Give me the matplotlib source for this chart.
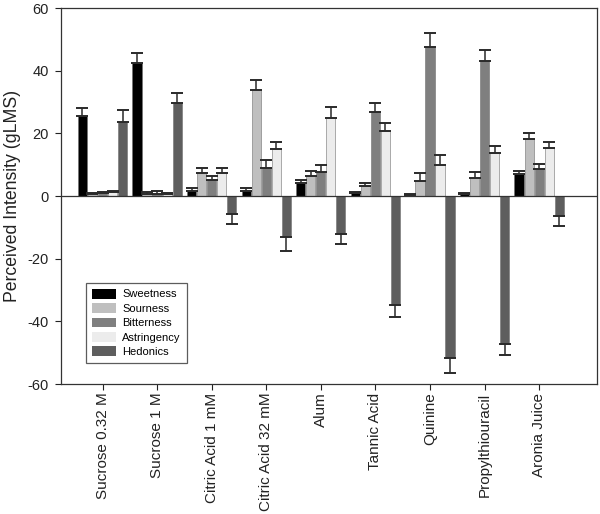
import matplotlib
matplotlib.use("Agg")
import matplotlib.pyplot as plt
import numpy as np

plt.rcParams['font.family'] = ['Liberation Sans', 'DejaVu Sans']
plt.rcParams['axes.unicode_minus'] = False

categories = ['Sucrose 0.32 M', 'Sucrose 1 M', 'Citric Acid 1 mM', 'Citric Acid 32 mM',
              'Alum', 'Tannic Acid', 'Quinine', 'Propylthiouracil', 'Aronia Juice']
series_names = ['Sweetness', 'Sourness', 'Bitterness', 'Astringency', 'Hedonics']

sweetness = [25.4, 42.3, 1.7, 1.7, 4.2, 1.0, 0.3, 0.7, 6.9]
sweet_err = [2.8, 3.2, 0.8, 1.0, 0.9, 0.3, 0.2, 0.3, 1.0]
sourness = [0.7, 0.8, 7.4, 33.8, 6.5, 3.1, 4.9, 5.9, 18.2]
sour_err = [0.3, 0.5, 1.4, 3.1, 1.6, 0.9, 2.3, 1.9, 1.9]
bitterness = [1.0, 0.8, 5.2, 9.1, 7.6, 26.8, 47.5, 43.0, 8.7]
bitter_err = [0.4, 0.8, 1.3, 2.5, 2.2, 2.9, 4.6, 3.6, 1.4]
astringency = [1.3, 0.7, 7.2, 14.9, 25.0, 20.9, 10.0, 13.7, 15.4]
astr_err = [0.4, 0.3, 1.8, 2.4, 3.4, 2.4, 3.1, 2.2, 1.9]
hedonics = [23.5, 29.7, -5.7, -13.0, -12.0, -34.8, -51.8, -47.1, -6.5]
hed_err = [4.0, 3.1, 3.3, 4.7, 3.4, 3.7, 4.7, 3.8, 3.2]

values = [sweetness, sourness, bitterness, astringency, hedonics]
errors = [sweet_err, sour_err, bitter_err, astr_err, hed_err]
colors = ['#000000', '#bfbfbf', '#7f7f7f', '#ececec', '#5e5e5e']

fig = plt.figure(figsize=(6.0, 5.14), dpi=100)
ax = fig.add_axes([0.1017, 0.2529, 0.8933, 0.7315])

x = np.arange(len(categories))
step = 0.184
width = 0.168
for i, (vals, errs, col, name) in enumerate(zip(values, errors, colors, series_names)):
    pos = x + (i - 2) * step
    vals = np.array(vals)
    errs = np.array(errs)
    lower = np.where(vals < 0, errs, 0)
    upper = np.where(vals >= 0, errs, 0)
    ax.bar(pos, vals, width, color=col, edgecolor='#707070', linewidth=0.4,
           label=name, zorder=2)
    ax.errorbar(pos, vals, yerr=[lower, upper], fmt='none', ecolor='#2a2a2a',
                elinewidth=1.1, capsize=4.3, capthick=1.4, zorder=3)

ax.axhline(0, color='#333333', linewidth=0.9, zorder=4)
ax.set_xlim(-0.76, 9.06)
ax.set_ylim(-60, 60)
ax.set_yticks([-60, -40, -20, 0, 20, 40, 60])
ax.set_xticks(x)
ax.set_xticklabels(categories, rotation=90, fontsize=11)
ax.tick_params(axis='y', labelsize=10.5, direction='out', length=4.3, width=0.8,
               colors='#222222', pad=4.5)
ax.tick_params(axis='x', direction='out', length=4, width=0.8, colors='#222222', pad=2.2)
ax.set_ylabel('Perceived Intensity (gLMS)', fontsize=12.7, color='#222222', labelpad=5)
for s in ax.spines.values():
    s.set_linewidth(0.9)
    s.set_color('#333333')

leg = ax.legend(loc='lower left', bbox_to_anchor=(0.046, 0.055), fontsize=8,
                frameon=True, fancybox=False, edgecolor='#333333',
                handlelength=2.2, handleheight=1.0, labelspacing=0.33,
                borderpad=0.55, handletextpad=0.55, borderaxespad=0)
leg.get_frame().set_linewidth(0.9)
for h in leg.legend_handles:
    h.set_edgecolor('none')

fig.savefig('out.png', dpi=100)
